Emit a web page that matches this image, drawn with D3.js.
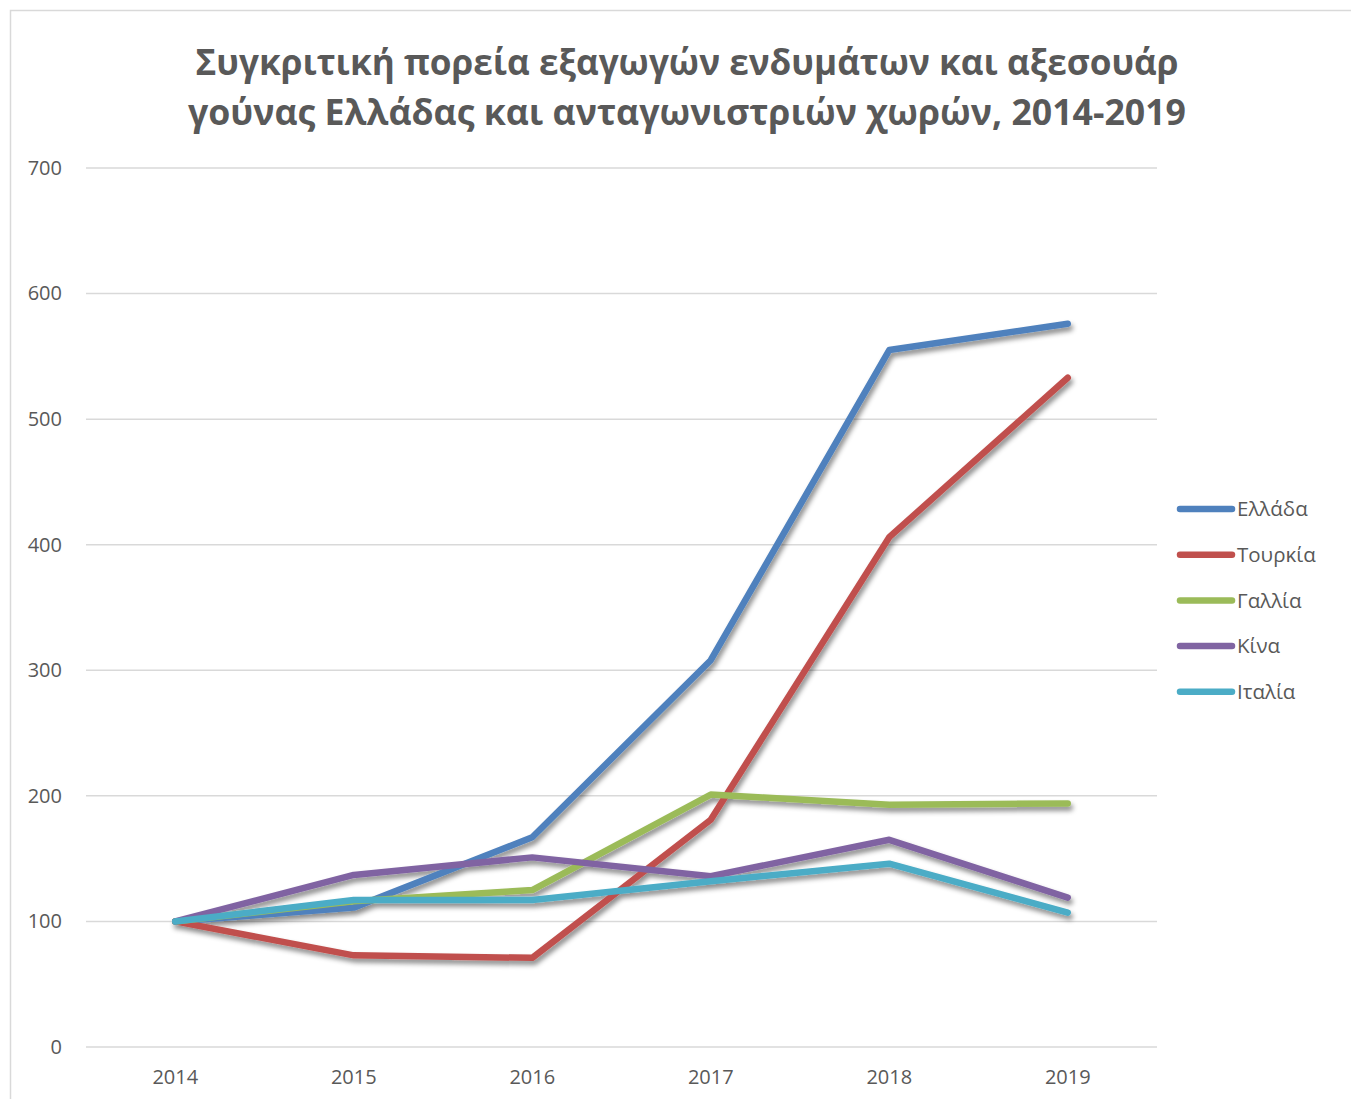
<!DOCTYPE html>
<html>
<head>
<meta charset="utf-8">
<script src="https://cdn.jsdelivr.net/npm/d3@7"></script>
<style>
  body { margin: 0; background: #fff; }
  text { font-family: "Open Sans", "Noto Sans", sans-serif; fill: #595959; }
</style>
</head>
<body>
<script>
var years = ["2014", "2015", "2016", "2017", "2018", "2019"];
var countries = ["Ελλάδα", "Τουρκία", "Γαλλία", "Κίνα", "Ιταλία"];
var colors = ["#4f81bd", "#c0504d", "#9bbb59", "#8064a2", "#4bacc6"];
var greece = [100, 111, 167, 308, 555, 576];
var turkey = [100, 73, 71, 181, 406, 533];
var france = [100, 116, 125, 201, 193, 194];
var china = [100, 137, 151, 136, 165, 119];
var italy = [100, 117, 117, 132, 146, 107];
var yTicks = [0, 100, 200, 300, 400, 500, 600, 700];
var titleLines = ["Συγκριτική πορεία εξαγωγών ενδυμάτων και αξεσουάρ",
                  "γούνας Ελλάδας και ανταγωνιστριών χωρών, 2014-2019"];

var series = [greece, turkey, france, china, italy];

var width = 1351,
    height = 1099,
    margin = {top: 168, left: 86, right: 1157, bottom: 1047};

var svg = d3.select("body").append("svg")
    .attr("width", width)
    .attr("height", height);

// drop shadow like the office chart
var defs = svg.append("defs");
var f = defs.append("filter").attr("id", "shadow")
    .attr("x", "-10%").attr("y", "-10%").attr("width", "120%").attr("height", "130%");
f.append("feDropShadow")
    .attr("dx", 2).attr("dy", 4).attr("stdDeviation", 2.5)
    .attr("flood-color", "#000").attr("flood-opacity", 0.45);

// outer frame
svg.append("rect")
    .attr("x", 10.5).attr("y", 10.5)
    .attr("width", width + 20).attr("height", height + 20)
    .attr("fill", "none").attr("stroke", "#d9d9d9").attr("stroke-width", 1.5);

var x = d3.scaleBand().domain(years).range([margin.left, margin.right]);
var y = d3.scaleLinear().domain([0, 700]).range([margin.bottom, margin.top]);

// gridlines
svg.append("g").selectAll("line")
    .data(yTicks)
  .enter().append("line")
    .attr("x1", margin.left).attr("x2", margin.right)
    .attr("y1", function(d) { return y(d); })
    .attr("y2", function(d) { return y(d); })
    .attr("stroke", "#d9d9d9").attr("stroke-width", 1.5);

// y labels
var yAxis = svg.append("g")
    .attr("transform", "translate(" + (margin.left - 24) + ",0)")
    .call(d3.axisLeft(y).tickValues(yTicks).tickSize(0).tickPadding(0));
yAxis.select(".domain").remove();
yAxis.selectAll("text")
    .style("font-size", "20px").attr("fill", "#595959")
    .style("font-family", "'Open Sans', sans-serif");

// x labels
var xAxis = svg.append("g")
    .attr("transform", "translate(0," + (margin.bottom + 23) + ")")
    .call(d3.axisBottom(x).tickSize(0).tickPadding(0));
xAxis.select(".domain").remove();
xAxis.selectAll("text")
    .style("font-size", "20px").attr("fill", "#595959")
    .style("font-family", "'Open Sans', sans-serif");

// lines
var line = d3.line()
    .x(function(d, i) { return x(years[i]) + x.bandwidth() / 2; })
    .y(function(d) { return y(d); });

svg.append("g").attr("filter", "url(#shadow)")
  .selectAll("path")
    .data(series)
  .enter().append("path")
    .attr("d", line)
    .attr("fill", "none")
    .attr("stroke", function(d, i) { return colors[i]; })
    .attr("stroke-width", 6.5)
    .attr("stroke-linecap", "round")
    .attr("stroke-linejoin", "round");

// legend
var legend = svg.append("g").selectAll("g")
    .data(countries)
  .enter().append("g")
    .attr("transform", function(d, i) { return "translate(1178," + (509 + i * 45.7) + ")"; });
legend.append("line")
    .attr("x1", 2).attr("x2", 54)
    .attr("stroke", function(d, i) { return colors[i]; })
    .attr("stroke-width", 6.5)
    .attr("stroke-linecap", "round");
legend.append("text")
    .attr("x", 59).attr("dy", "0.35em")
    .style("font-size", "20.5px")
    .text(function(d) { return d; });

// title, squeezed to the reference width
var titleWidths = [983, 998];
svg.append("g").selectAll("text")
    .data(titleLines)
  .enter().append("text")
    .attr("x", 687)
    .attr("y", function(d, i) { return 75 + i * 50; })
    .attr("text-anchor", "middle")
    .style("font-size", "36px")
    .style("font-weight", "bold")
    .attr("textLength", function(d, i) { return titleWidths[i]; })
    .attr("lengthAdjust", "spacingAndGlyphs")
    .text(function(d) { return d; });
</script>
</body>
</html>
